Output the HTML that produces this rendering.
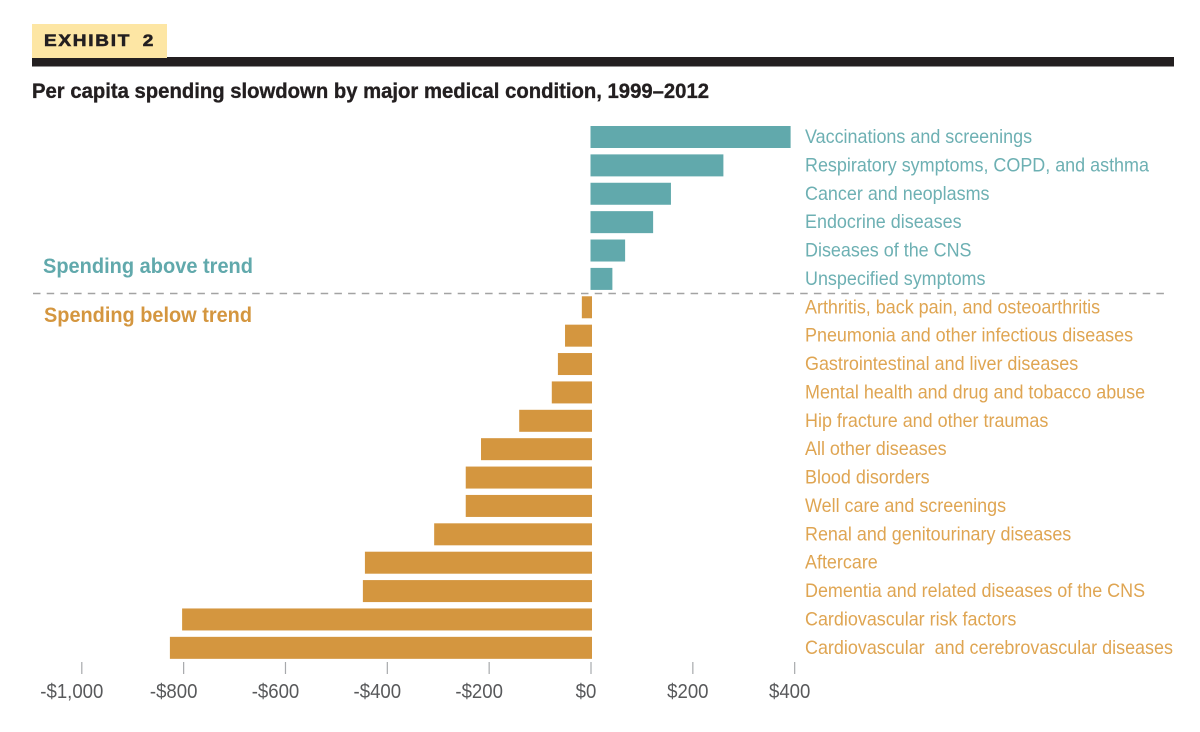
<!DOCTYPE html>
<html lang="en">
<head>
<meta charset="utf-8">
<title>Exhibit 2</title>
<style>
html,body{margin:0;padding:0;background:#fff;width:1200px;height:732px;overflow:hidden}
svg{display:block;font-family:"Liberation Sans",sans-serif}
</style>
</head>
<body>
<svg id="chart" width="1200" height="732" viewBox="0 0 1200 732" xmlns="http://www.w3.org/2000/svg">
  <rect x="32" y="57" width="1142" height="9.5" fill="#231f20"/>
  <rect x="32" y="24" width="135" height="34" fill="#fde6a4"/>
  <text x="44" y="46" font-size="16.5" font-weight="bold" fill="#231f20" stroke="#231f20" stroke-width="0.6" letter-spacing="1.5" word-spacing="4" textLength="111" lengthAdjust="spacingAndGlyphs">EXHIBIT 2</text>
  <text x="32" y="98" font-size="21" font-weight="bold" fill="#231f20" stroke="#231f20" stroke-width="0.35" textLength="677" lengthAdjust="spacingAndGlyphs">Per capita spending slowdown by major medical condition, 1999–2012</text>
  <g id="bars"></g>
  <g id="labels"></g>
  <line x1="33" y1="293.5" x2="1170" y2="293.5" stroke="#a3a3a3" stroke-width="1.6" stroke-dasharray="7.5 6.2"/>
  <text x="43" y="273" font-size="21.5" font-weight="bold" fill="#61a9ac" textLength="210" lengthAdjust="spacingAndGlyphs">Spending above trend</text>
  <text x="44" y="322" font-size="21.5" font-weight="bold" fill="#d4963f" textLength="208" lengthAdjust="spacingAndGlyphs">Spending below trend</text>
  <g id="axis"></g>
</svg>
<script>
const categories = [
  "Vaccinations and screenings",
  "Respiratory symptoms, COPD, and asthma",
  "Cancer and neoplasms",
  "Endocrine diseases",
  "Diseases of the CNS",
  "Unspecified symptoms",
  "Arthritis, back pain, and osteoarthritis",
  "Pneumonia and other infectious diseases",
  "Gastrointestinal and liver diseases",
  "Mental health and drug and tobacco abuse",
  "Hip fracture and other traumas",
  "All other diseases",
  "Blood disorders",
  "Well care and screenings",
  "Renal and genitourinary diseases",
  "Aftercare",
  "Dementia and related diseases of the CNS",
  "Cardiovascular risk factors",
  "Cardiovascular  and cerebrovascular diseases"
];
const spendingValues = [392, 260, 157, 122, 67, 42, -18, -51, -65, -77, -141, -216, -246, -246, -308, -444, -448, -803, -827];
const tickValues = [-1000, -800, -600, -400, -200, 0, 200, 400];
const tickLabels = ["-$1,000", "-$800", "-$600", "-$400", "-$200", "$0", "$200", "$400"];

const SVG_NS = "http://www.w3.org/2000/svg";
const xScale = v => 591 + v * 0.5092;
const rowTop = i => 126 + i * 28.38;
const ROW_HEIGHT = 22;
const TEAL = "#61a9ac", ORANGE = "#d4963f";
const TEAL_TEXT = "#6db0b3", ORANGE_TEXT = "#dfa552";

function make(tag, attrs, parent) {
  const el = document.createElementNS(SVG_NS, tag);
  for (const k in attrs) el.setAttribute(k, attrs[k]);
  parent.appendChild(el);
  return el;
}

const barsGroup = document.getElementById("bars");
const labelsGroup = document.getElementById("labels");
const axisGroup = document.getElementById("axis");

categories.forEach((name, i) => {
  const v = spendingValues[i];
  const above = v >= 0;
  const x0 = above ? xScale(0) - 0.5 : xScale(v);
  const x1 = above ? xScale(v) : xScale(0) + 1;
  const bar = make("rect", {x: x0, y: rowTop(i), width: x1 - x0, height: ROW_HEIGHT, fill: above ? TEAL : ORANGE}, barsGroup);
  
  

  const label = make("text", {
    transform: "translate(805," + (rowTop(i) + 17) + ") scale(0.945,1)",
    "font-size": 19,
    fill: above ? TEAL_TEXT : ORANGE_TEXT
  }, labelsGroup);
  
  
  label.style.whiteSpace = 'pre';
  label.textContent = name;
});

tickValues.forEach((v, i) => {
  const x = xScale(v);
  const tick = make("line", {x1: x, x2: x, y1: 662, y2: 674, stroke: "#a7a9ac", "stroke-width": 1.2}, axisGroup);
  
  

  const text = make("text", {
    transform: "translate(" + (x + (v < 0 ? -10 : -5)) + ",698) scale(0.93,1)",
    "text-anchor": "middle",
    "font-size": 20,
    fill: "#58595b"
  }, axisGroup);
  
  
  text.textContent = tickLabels[i];
});
</script>
</body>
</html>
